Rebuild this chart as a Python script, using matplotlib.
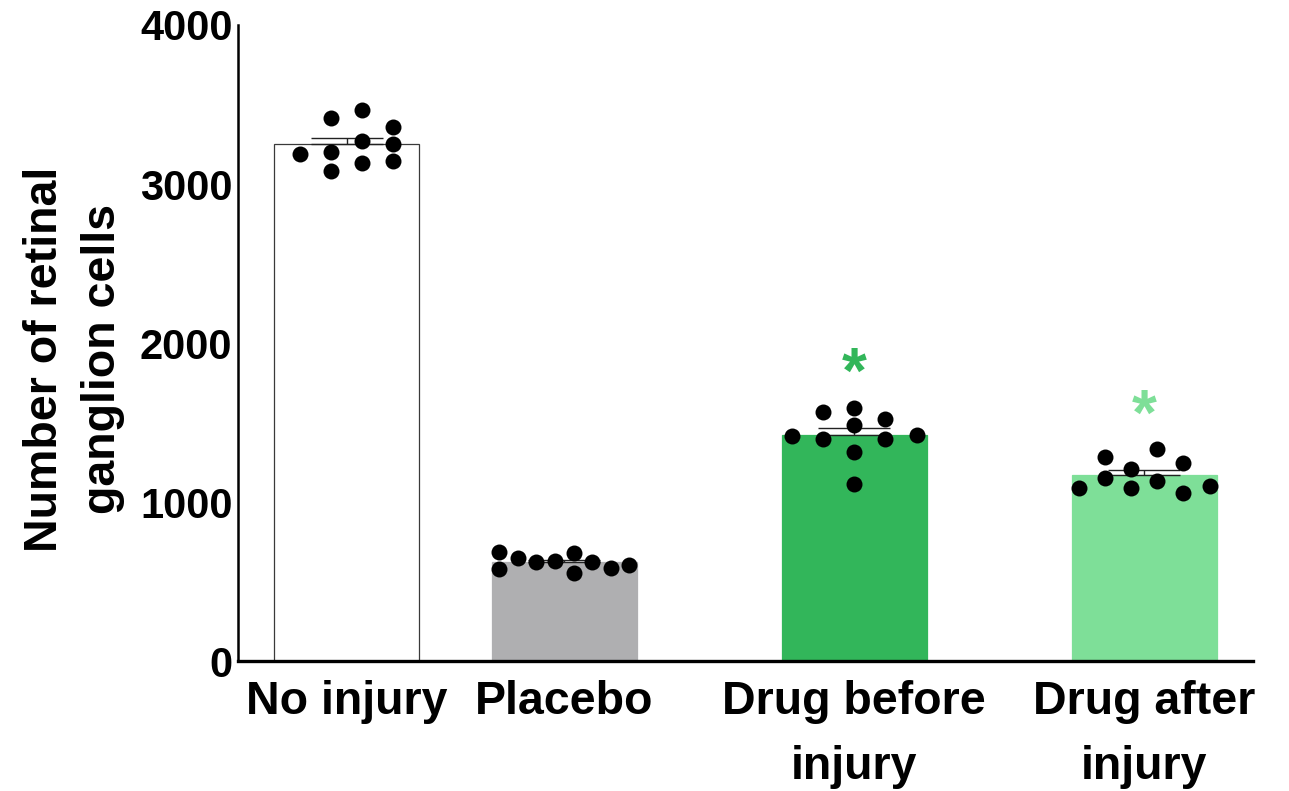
import numpy as np
import matplotlib
matplotlib.use("Agg")
import matplotlib.pyplot as plt

plt.rcParams['font.family'] = ['Liberation Sans', 'DejaVu Sans']
plt.rcParams['font.weight'] = 'bold'

# ---- data -------------------------------------------------------------
groups = ["No injury", "Placebo", "Drug before\ninjury", "Drug after\ninjury"]

# retinal ganglion cell counts per eye, in order of entry
no_injury = [3465, 3270, 3130, 3413, 3203, 3360, 3250, 3145, 3187, 3082]
placebo = [677, 555, 629, 621, 621, 587, 646, 604, 687, 577]
drug_before = [1589, 1484, 1316, 1111, 1564, 1394, 1520, 1394, 1417, 1421]
drug_after = [1134, 1090, 1058, 1149, 1101, 1086, 1208, 1333, 1243, 1285]

significant = [False, False, True, True]

y_ticks = [0, 1000, 2000, 3000, 4000]

# ---- styling ------------------------------------------------------------
bar_colors = ["white", "#afafb1", "#32b65a", "#7edf98"]
bar_edges = ["#3a3a3a", "#afafb1", "#32b65a", "#7edf98"]
positions = [0.0, 1.5, 3.5, 5.5]
bar_width = 1.0


def swarm_offsets(values, min_gap, span, max_step):
    """Place points in columns, centre-out, so that points sharing a
    column are at least `min_gap` apart; return horizontal offsets."""
    order = [0]
    k = 1
    while len(order) < 2 * len(values) + 1:
        order += [-k, k]
        k += 1
    placed = []
    for v in values:
        for s in order:
            if all(abs(v - w) >= min_gap for w, t in placed if t == s):
                break
        placed.append((v, s))
    used = [s for _, s in placed]
    lo, hi = min(used), max(used)
    ncol = hi - lo + 1
    step = max_step if ncol == 1 else min(max_step, span / (ncol - 1))
    centre = (lo + hi) / 2.0
    return [(s - centre) * step for _, s in placed]


fig = plt.figure(figsize=(12.89, 7.91), dpi=100)
ax = fig.add_axes([0.1846, 0.1643, 0.9721 - 0.1846, 0.9684 - 0.1643])

series = [no_injury, placebo, drug_before, drug_after]
for i, vals in enumerate(series):
    vals = np.asarray(vals, dtype=float)
    mean = vals.mean()
    sem = vals.std(ddof=1) / np.sqrt(len(vals))
    x = positions[i]
    ax.bar(x, mean, width=bar_width, color=bar_colors[i],
           edgecolor=bar_edges[i], linewidth=0.9, zorder=1)
    ax.errorbar(x, mean, yerr=[[0], [sem]], fmt='none', ecolor='#222222',
                elinewidth=1.0, capsize=26, capthick=1.0, zorder=2)
    offs = swarm_offsets(list(vals), 102, 0.9, 0.215)
    ax.plot(x + np.asarray(offs), vals, 'o', color='black',
            markersize=11.5, markeredgewidth=0, zorder=3, clip_on=False)
    if significant[i]:
        ax.text(x, mean + sem + 225, "*", ha='center', va='baseline',
                fontsize=46, fontweight='bold', color=bar_colors[i])

ax.set_xlim(-0.75, 6.25)
ax.set_ylim(0, 4000)
ax.set_xticks(positions)
ax.set_xticklabels(groups, fontsize=33.5, fontweight='bold',
                   linespacing=1.6)
ax.set_yticks(y_ticks)
ax.set_yticklabels([str(t) for t in y_ticks], fontsize=30, fontweight='bold')
ax.tick_params(axis='x', length=0, pad=14)
ax.tick_params(axis='y', length=0, pad=4)

ax.set_ylabel("Number of retinal\nganglion cells", fontsize=33.5,
              fontweight='bold', va='center', linespacing=1.4)
ax.yaxis.set_label_coords(-0.1615, 0.475)

for side in ('top', 'right'):
    ax.spines[side].set_visible(False)
ax.spines['left'].set_linewidth(1.8)
ax.spines['bottom'].set_linewidth(2.4)

fig.savefig("out.png", dpi=100, facecolor='white')
